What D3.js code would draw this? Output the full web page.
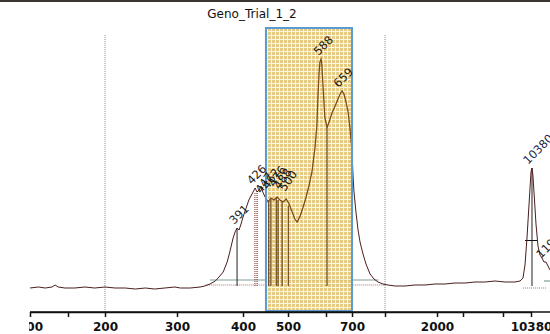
<!DOCTYPE html>
<html>
<head>
<meta charset="utf-8">
<script src="https://cdn.jsdelivr.net/npm/d3@7"></script>
<style>
  body { margin: 0; background: #fff; }
  svg { display: block; font-family: "DejaVu Sans", sans-serif; }
</style>
</head>
<body>
<div id="chart"></div>
<script>
// fragment size axis (bp) - nonlinear, one break per tick
const sizeTicks = [100, 150, 200, 300, 400, 500, 600, 700, 1000, 2000, 3000, 7000, 10380];
const tickLabels = ["100", "", "200", "300", "400", "500", "", "700", "", "2000", "", "", "10380"];
const gridSizes = [200, 1000];

// trace: size (bp) and signal
const traceSize = [100, 111, 120, 129, 133, 137, 146, 159, 173, 186, 200, 214, 228, 242, 256, 269, 283, 297, 305, 320,
  335, 342, 350, 358, 365, 370, 376, 380, 385, 388, 391, 394, 397, 400, 407, 413, 420, 427, 431, 436,
  440, 444, 449, 456, 462, 469, 476, 482, 489, 496, 503, 511, 518, 524, 532, 539, 547, 555, 563, 571,
  576, 579, 582, 584, 587, 589, 592, 597, 604, 612, 623, 635, 646, 658, 662, 669, 677, 685, 692, 700,
  709, 718, 736, 755, 773, 800, 827, 864, 900, 936, 982, 1058, 1192, 1385, 1577, 1769, 1962, 2308, 2692, 3200,
  4200, 5200, 6200, 7241, 8448, 9052, 9414, 9655, 9897, 10138, 10380, 10500, 10621, 10742, 10862, 10983, 11224, 11466, 11707, 11948,
  12190, 12431, 12672];
const traceValue = [0, 4, 0, 4, 12, 4, 0, 0, 4, 0, 4, 0, 0, -4, 0, -4, 0, 4, 0, 0,
  4, 8, 16, 28, 48, 64, 104, 144, 200, 224, 240, 232, 256, 284, 320, 352, 376, 400, 384, 392,
  408, 384, 364, 344, 360, 352, 364, 352, 344, 356, 336, 304, 276, 264, 288, 320, 360, 408, 464, 560,
  652, 772, 864, 904, 916, 896, 812, 680, 644, 664, 700, 728, 756, 784, 788, 776, 744, 704, 640, 552,
  452, 384, 304, 232, 184, 136, 96, 56, 36, 24, 16, 12, 8, 8, 12, 12, 16, 16, 20, 20,
  24, 24, 28, 24, 24, 28, 40, 92, 200, 332, 464, 480, 448, 384, 320, 256, 168, 132, 120, 104,
  104, 88, 72];

// called peaks
const peakSize = [391, 426, 447, 462, 476, 488, 500, 588, 659, 10380, 11948];
const peakHeight = [240, 400, 364, 380, 390, 380, 372, 916, 788, 480, 104];
const peakLabel = ["391", "426", "447", "462", "476", "488", "500", "588", "659", "10380", "11948"];
// drop lines under peaks / bins
const dropSize = [391, 426, 429, 432, 457, 462, 474, 478, 487, 501, 604, 10500];
const dropTop = [240, 380, 380, 380, 350, 360, 364, 352, 344, 330, 644, 480];
const dropKind = ["solid", "dot", "dot", "dot", "box", "box", "box", "box", "box", "box", "box", "solid"];

// highlighted size window
const windowRange = [451, 700];
// baseline levels
const baseFit = 32, baseZero = 12;

const width = 550, height = 334;
const axisY = 312;

const svg = d3.select("#chart").append("svg")
  .attr("width", width).attr("height", height);

const x = d3.scaleLinear()
  .domain(sizeTicks)
  .range([30, 68, 105, 177, 243, 288, 326, 352, 385, 437, 463, 503, 531]);
const y = d3.scaleLinear().domain([0, 1000]).range([288, 38]);

// thin dark strip at top
svg.append("rect").attr("x", 0).attr("y", 0).attr("width", width).attr("height", 2).attr("fill", "#3b3631");

svg.append("text")
  .attr("x", 252).attr("y", 18)
  .attr("text-anchor", "middle")
  .attr("font-size", 12)
  .attr("fill", "#111")
  .text("Geno_Trial_1_2");

const defs = svg.append("defs");
const pat = defs.append("pattern")
  .attr("id", "grid").attr("patternUnits", "userSpaceOnUse")
  .attr("width", 4).attr("height", 4);
pat.append("rect").attr("width", 4).attr("height", 4).attr("fill", "#e2c26c");
pat.append("rect").attr("x", 0).attr("y", 3).attr("width", 4).attr("height", 1).attr("fill", "#fbf3da");
pat.append("rect").attr("x", 3).attr("y", 0).attr("width", 1).attr("height", 4).attr("fill", "#fbf3da");

defs.append("clipPath").attr("id", "plotClip")
  .append("rect").attr("x", 30).attr("y", 0).attr("width", width - 30).attr("height", height);

const boxTop = 28, boxBottom = axisY - 1;
const bx0 = x(windowRange[0]), bx1 = x(windowRange[1]);
defs.append("clipPath").attr("id", "boxClip")
  .append("rect").attr("x", bx0).attr("y", boxTop).attr("width", bx1 - bx0).attr("height", boxBottom - boxTop);

// dotted grid lines
svg.append("g").selectAll("line").data(gridSizes).join("line")
  .attr("x1", d => x(d)).attr("x2", d => x(d))
  .attr("y1", 35).attr("y2", axisY)
  .attr("stroke", "#8a8a8a").attr("stroke-width", 1)
  .attr("stroke-dasharray", "1,1");

const plot = svg.append("g").attr("clip-path", "url(#plotClip)");

// baselines
plot.append("line")
  .attr("x1", x(350)).attr("x2", x(940))
  .attr("y1", y(baseFit)).attr("y2", y(baseFit))
  .attr("stroke", "#7f9f98").attr("stroke-width", 1.2);
plot.append("line")
  .attr("x1", x(342)).attr("x2", x(1000))
  .attr("y1", y(baseZero)).attr("y2", y(baseZero))
  .attr("stroke", "#b07070").attr("stroke-width", 1).attr("stroke-dasharray", "1,1");
plot.append("line")
  .attr("x1", x(9414)).attr("x2", x(12300))
  .attr("y1", y(baseZero - 12)).attr("y2", y(baseZero - 12))
  .attr("stroke", "#b07070").attr("stroke-width", 1).attr("stroke-dasharray", "1,1");
plot.append("line")
  .attr("x1", x(11948)).attr("x2", x(13000))
  .attr("y1", y(baseFit - 4)).attr("y2", y(baseFit - 4))
  .attr("stroke", "#7f9f98").attr("stroke-width", 1.2);

// drop lines
function drawDrops(g, colorFn) {
  g.selectAll("line").data(dropSize).join("line")
    .attr("x1", d => x(d)).attr("x2", d => x(d))
    .attr("y1", (d, i) => y(dropTop[i]))
    .attr("y2", y(baseZero - 4))
    .attr("stroke", colorFn)
    .attr("stroke-width", (d, i) => dropKind[i] === "box" ? 1.3 : 1)
    .attr("stroke-dasharray", (d, i) => dropKind[i] === "dot" ? "1,1" : null);
}
drawDrops(plot.append("g"), (d, i) => dropKind[i] === "dot" ? "#a06060" : "#2a2020");

// half-height marker on 10380
plot.append("line")
  .attr("x1", x(9655)).attr("x2", x(11100))
  .attr("y1", y(190)).attr("y2", y(190))
  .attr("stroke", "#111").attr("stroke-width", 1);

// trace
const line = d3.line()
  .x((d, i) => x(traceSize[i]))
  .y(d => y(d));
plot.append("path")
  .datum(traceValue)
  .attr("d", line)
  .attr("fill", "none")
  .attr("stroke", "#4a1e1e")
  .attr("stroke-width", 1);

// highlight window over the trace
svg.append("rect")
  .attr("x", bx0).attr("y", boxTop)
  .attr("width", bx1 - bx0)
  .attr("height", boxBottom - boxTop)
  .attr("fill", "url(#grid)")
  .attr("fill-opacity", 0.85);

// trace and drops seen through the window, tinted
const inBox = svg.append("g").attr("clip-path", "url(#boxClip)");
drawDrops(inBox.append("g").attr("opacity", 0.75), "#5a3412");
inBox.append("path")
  .datum(traceValue)
  .attr("d", line)
  .attr("fill", "none")
  .attr("stroke", "#7a4a1c")
  .attr("stroke-width", 1.2);

svg.append("rect")
  .attr("x", bx0).attr("y", boxTop)
  .attr("width", bx1 - bx0)
  .attr("height", boxBottom - boxTop)
  .attr("fill", "none")
  .attr("stroke", "#5b9bd5").attr("stroke-width", 2);

// peak labels (on top of everything)
svg.append("g").attr("clip-path", "url(#plotClip)")
  .selectAll("text").data(peakSize).join("text")
  .attr("transform", (d, i) => `translate(${x(d) - 3},${y(peakHeight[i]) - 3}) rotate(${i >= 2 && i <= 6 ? -55 : -45})`)
  .attr("font-size", 11.5)
  .attr("fill", (d, i) => i === 9 ? "#1c1c48" : "#1a1a1a")
  .text((d, i) => peakLabel[i]);

// axis
const axis = d3.axisBottom(x)
  .tickValues(sizeTicks)
  .tickFormat((d, i) => tickLabels[i])
  .tickSize(5)
  .tickSizeOuter(0);
defs.append("clipPath").attr("id", "axClip")
  .append("rect").attr("x", 29).attr("y", -5).attr("width", width).attr("height", 40);
const ax = svg.append("g")
  .attr("transform", `translate(0,${axisY})`)
  .attr("clip-path", "url(#axClip)")
  .call(axis);
ax.select(".domain").attr("stroke", "#111").attr("stroke-width", 1.5);
ax.selectAll(".tick line").attr("stroke", "#111").attr("stroke-width", 1.5);
ax.selectAll(".tick text")
  .attr("font-family", "DejaVu Sans, sans-serif")
  .attr("font-size", 12)
  .attr("font-weight", "bold")
  .attr("fill", "#111")
  .attr("dy", "0.9em");
ax.append("line")
  .attr("x1", 30).attr("x2", width)
  .attr("stroke", "#111").attr("stroke-width", 1.5);
</script>
</body>
</html>
